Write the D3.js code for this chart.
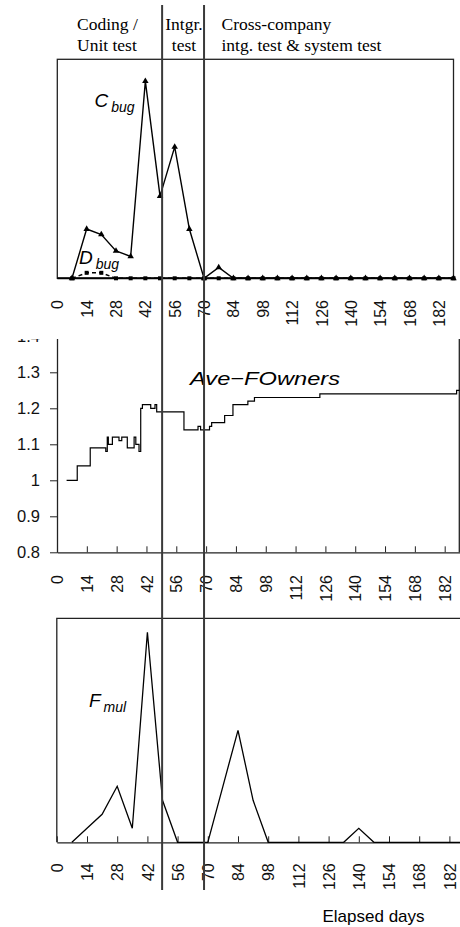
<!DOCTYPE html>
<html>
<head>
<meta charset="utf-8">
<script src="https://cdn.jsdelivr.net/npm/d3@7"></script>
<style>
  body { margin: 0; background: #fff; }
  svg { display: block; }
  .tick text { font-family: "Liberation Sans", Arial, sans-serif; fill: #111; }
</style>
</head>
<body>
<svg width="460" height="927"></svg>
<script>
// x categories (elapsed days, weekly) for the bug counts and F_mul
var weekDays = [7, 14, 21, 28, 35, 42, 49, 56, 63, 70, 77, 84, 91, 98, 105, 112, 119, 126, 133, 140, 147, 154, 161, 168, 175, 182, 189];
var cBug = [0, 9, 8, 5, 4, 36, 15, 24, 9, 0, 2, 0, 0, 0, 0, 0, 0, 0, 0, 0, 0, 0, 0, 0, 0, 0, 0];
var dBug = [0, 1, 1, 0, 0, 0, 0, 0, 0, 0, 0, 0, 0, 0, 0, 0, 0, 0, 0, 0, 0, 0, 0, 0, 0, 0, 0];
var fMul = [0, 1, 2, 4, 1, 15, 3, 0, 0, 0, 4, 8, 3, 0, 0, 0, 0, 0, 0, 1, 0, 0, 0, 0, 0, 0, 0];

// Ave-FOwners: day where the value changes, and the new value (step line)
var aveDays = [4.5, 9.5, 15.6, 22.9, 23.6, 24.1, 26, 29.1, 30.4, 33, 36.2, 37, 38.5, 39.3, 40.1, 44, 46, 46.8,
               59.6, 66.2, 67.4, 71.6, 72.6, 78.7, 82.6, 89.6, 92.7, 123.4, 187.6, 189];
var aveVals = [1.00, 1.04, 1.09, 1.08, 1.12, 1.10, 1.12, 1.11, 1.12, 1.09, 1.12, 1.10, 1.08, 1.20, 1.21, 1.20, 1.21, 1.19,
               1.14, 1.15, 1.14, 1.15, 1.16, 1.18, 1.21, 1.22, 1.23, 1.24, 1.25, 1.25];

var xTickVals = [0, 14, 28, 42, 56, 70, 84, 98, 112, 126, 140, 154, 168, 182];
var yTickVals = [0.8, 0.9, 1, 1.1, 1.2, 1.3, 1.4];
var phaseBounds = [50, 70];
var phaseLabels = [
  {x: 77, lines: ["Coding /", "Unit test"], anchor: "start"},
  {x: 184, lines: ["Intgr.", "test"], anchor: "middle"},
  {x: 221.5, lines: ["Cross-company", "intg. test & system test"], anchor: "start"}
];

var svg = d3.select("svg");
var sans = '"Liberation Sans", Arial, sans-serif';
var serif = '"Liberation Serif", "Times New Roman", serif';

function rotLabels(sel, off) {
    sel.selectAll("text")
        .attr("y", 0)
        .attr("x", -off)
        .attr("dy", ".35em")
        .attr("transform", "rotate(-90)")
        .style("text-anchor", "end")
        .style("font-size", "16px");
}

/* ---------- top panel: C_bug / D_bug ---------- */
var xTop = d3.scaleLinear().domain([0, 189]).range([57.3, 453.5]);
var yTop = d3.scaleLinear().domain([0, 40]).range([278.3, 59.3]);

svg.append("rect")
    .attr("x", xTop(0)).attr("y", yTop(40))
    .attr("width", xTop(189) - xTop(0)).attr("height", yTop(0) - yTop(40))
    .attr("fill", "none").attr("stroke", "#222").attr("stroke-width", 1.3);

var gxTop = svg.append("g")
    .attr("transform", "translate(0," + yTop(0) + ")")
    .call(d3.axisBottom(xTop).tickValues(xTickVals).tickSize(0).tickFormat(d3.format("d")));
gxTop.select(".domain").remove();
rotLabels(gxTop, 21.7);

var topLine = d3.line()
    .x(function(d, i) { return xTop(weekDays[i]); })
    .y(function(d) { return yTop(d); });

svg.append("path").datum(dBug)
    .attr("fill", "none").attr("stroke", "#000").attr("stroke-width", 1.5)
    .attr("stroke-dasharray", "4,3")
    .attr("d", topLine);

svg.append("path").datum(cBug)
    .attr("fill", "none").attr("stroke", "#000").attr("stroke-width", 1.4)
    .attr("d", topLine);

svg.append("g").selectAll("rect")
    .data(dBug)
    .enter().append("rect")
        .attr("x", function(d, i) { return xTop(weekDays[i]) - 2; })
        .attr("y", function(d) { return yTop(d) - 2; })
        .attr("width", 4).attr("height", 4)
        .attr("fill", "#000");

svg.append("g").selectAll("path")
    .data(cBug)
    .enter().append("path")
        .attr("transform", function(d, i) { return "translate(" + xTop(weekDays[i]) + "," + yTop(d) + ")"; })
        .attr("d", d3.symbol().type(d3.symbolTriangle).size(18))
        .attr("fill", "#000");

svg.append("line")
    .attr("x1", xTop(0)).attr("x2", xTop(189))
    .attr("y1", yTop(0)).attr("y2", yTop(0))
    .attr("stroke", "#000").attr("stroke-width", 2);

function subLabel(x, y, big, small, size, sub) {
    var t = svg.append("text")
        .attr("x", x).attr("y", y)
        .style("font-family", sans).style("font-style", "italic")
        .style("font-size", size + "px").attr("fill", "#000");
    t.append("tspan").text(big);
    t.append("tspan").attr("dx", 3).attr("dy", 5).style("font-size", sub + "px").text(small);
}
subLabel(94.5, 106.5, "C", "bug", 19, 14);
subLabel(79, 263.5, "D", "bug", 19, 14);

/* ---------- middle panel: Ave-FOwners ---------- */
var xMid = d3.scaleLinear().domain([0, 189]).range([57, 459.6]);
var yMid = d3.scaleLinear().domain([0.8, 1.4]).range([552.3, 336.3]);

svg.append("clipPath").attr("id", "midclip")
    .append("rect").attr("x", 0).attr("y", 339).attr("width", 460).attr("height", 300);

var gMid = svg.append("g").attr("clip-path", "url(#midclip)");

var gyMid = gMid.append("g")
    .attr("transform", "translate(" + xMid(0) + ",0)")
    .call(d3.axisLeft(yMid).tickValues(yTickVals).tickSize(7).tickSizeOuter(0).tickPadding(10)
        .tickFormat(function(d) { return d3.format("")(+d.toFixed(1)); }));
gyMid.select(".domain").attr("stroke", "#222").attr("stroke-width", 1.3);
gyMid.selectAll("text").style("font-size", "16.5px");
gyMid.selectAll("line").attr("stroke", "#222");

gMid.append("line")
    .attr("x1", 459.3).attr("x2", 459.3).attr("y1", 330).attr("y2", yMid(0.8))
    .attr("stroke", "#222").attr("stroke-width", 1.3);

var gxMid = svg.append("g")
    .attr("transform", "translate(0," + yMid(0.8) + ")")
    .call(d3.axisBottom(xMid).tickValues(xTickVals).tickSizeInner(-6).tickSizeOuter(0).tickFormat(d3.format("d")));
gxMid.select(".domain").attr("stroke", "#222").attr("stroke-width", 1.3);
gxMid.selectAll("line").attr("stroke", "#222");
rotLabels(gxMid, 575 - 552.3);

var aveData = aveDays.map(function(d, i) { return {day: d, v: aveVals[i]}; });
gMid.append("path").datum(aveData)
    .attr("fill", "none").attr("stroke", "#000").attr("stroke-width", 1.2)
    .attr("d", d3.line().curve(d3.curveStepAfter)
        .x(function(d) { return xMid(d.day); })
        .y(function(d) { return yMid(d.v); }));

svg.append("text")
    .attr("x", 190).attr("y", 385)
    .attr("textLength", 150).attr("lengthAdjust", "spacingAndGlyphs")
    .style("font-family", sans).style("font-style", "italic").style("font-size", "19px")
    .text("Ave\u2212FOwners");

/* ---------- bottom panel: F_mul ---------- */
var xBot = d3.scaleLinear().domain([0, 189]).range([56.8, 464.5]);
var yBot = d3.scaleLinear().domain([0, 16]).range([842.3, 618.3]);

svg.append("path")
    .attr("d", "M" + 462 + "," + yBot(16) + "H" + xBot(0) + "V" + yBot(0))
    .attr("fill", "none").attr("stroke", "#222").attr("stroke-width", 1.3);

var gxBot = svg.append("g")
    .attr("transform", "translate(0," + yBot(0) + ")")
    .call(d3.axisBottom(xBot).tickValues(xTickVals).tickSizeInner(-6).tickSizeOuter(0).tickFormat(d3.format("d")));
gxBot.select(".domain").attr("stroke", "#222").attr("stroke-width", 1.3);
gxBot.selectAll("line").attr("stroke", "#222");
rotLabels(gxBot, 863.3 - 842.3);

svg.append("path").datum(fMul)
    .attr("fill", "none").attr("stroke", "#000").attr("stroke-width", 1.3)
    .attr("d", d3.line()
        .x(function(d, i) { return xBot(weekDays[i]); })
        .y(function(d) { return yBot(d); }));

subLabel(89, 706.5, "F", "mul", 19, 14);

svg.append("text")
    .attr("x", 322.5).attr("y", 921.5)
    .style("font-family", sans).style("font-size", "17px")
    .text("Elapsed days");

/* ---------- phase boundaries and headers ---------- */
svg.append("g").selectAll("line")
    .data(phaseBounds)
    .enter().append("line")
        .attr("x1", function(d) { return xTop(d); })
        .attr("x2", function(d) { return xTop(d); })
        .attr("y1", 5).attr("y2", 890)
        .attr("stroke", "#3a3a3a").attr("stroke-width", 2);

var hdr = svg.append("g").selectAll("text")
    .data(phaseLabels)
    .enter().append("text")
        .attr("text-anchor", function(d) { return d.anchor; })
        .style("font-family", serif).style("font-size", "17.5px");
hdr.selectAll("tspan")
    .data(function(d) { return d.lines.map(function(l) { return {x: d.x, t: l}; }); })
    .enter().append("tspan")
        .attr("x", function(d) { return d.x; })
        .attr("y", function(d, i) { return i === 0 ? 30 : 51; })
        .text(function(d) { return d.t; });
</script>
</body>
</html>
